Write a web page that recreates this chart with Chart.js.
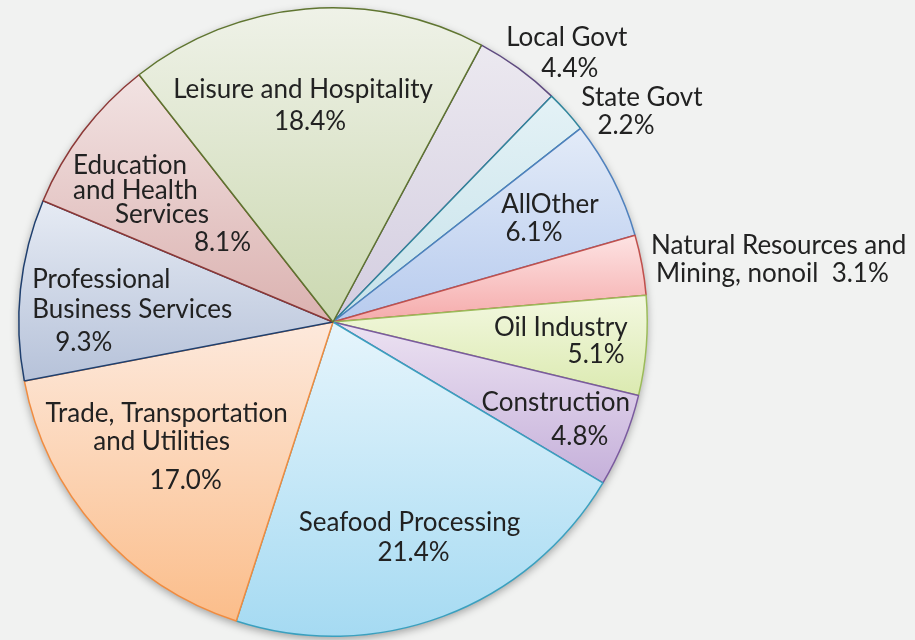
<!DOCTYPE html>
<html lang="en">
<head>
    <meta charset="UTF-8">
    <title>Employment by Sector</title>
    <script src="https://cdn.jsdelivr.net/npm/chart.js"></script>
    <style>
        body {
            margin: 0;
            background: #f1f2f1;
        }

        #wrap {
            width: 915px;
            height: 640px;
        }
    </style>
</head>
<body>
    <div id="wrap">
        <canvas id="sector-chart" width="915" height="640"></canvas>
    </div>
    <script>
        // data, clockwise from the Local Govt slice
        const sectors = [
            'Local Govt', 'State Govt', 'AllOther', 'Natural Resources and Mining, nonoil',
            'Oil Industry', 'Construction', 'Seafood Processing',
            'Trade, Transportation and Utilities', 'Professional Business Services',
            'Education and Health Services', 'Leisure and Hospitality'
        ];
        const shares = [4.4, 2.2, 6.1, 3.1, 5.1, 4.8, 21.4, 17.0, 9.3, 8.1, 18.4];
        // label text as drawn on the chart, {v} = the share
        const labelLines = [
            ['Local Govt', '{v}'],
            ['State Govt', '{v}'],
            ['AllOther', '{v}'],
            ['Natural Resources and', 'Mining, nonoil  {v}'],
            ['Oil Industry', '{v}'],
            ['Construction', '{v}'],
            ['Seafood Processing', '{v}'],
            ['Trade, Transportation', 'and Utilities', '{v}'],
            ['Professional', 'Business Services', '{v}'],
            ['Education', 'and Health', 'Services', '{v}'],
            ['Leisure and Hospitality', '{v}']
        ];

        // styling: gradient top / bottom colour and outline per slice
        const topColors = ['#ece9f0', '#e4f2f6', '#e3ebf8', '#fde3e3', '#f3f8e0', '#ece2f2',
            '#e6f5fc', '#fde9dc', '#e6ebf4', '#f2e3e3', '#eff2e8'];
        const bottomColors = ['#d3cde0', '#c6e2ea', '#b7cbee', '#f5abab', '#dbeab0', '#c5b0da',
            '#a5daf2', '#fbbd8a', '#b6c2d9', '#dbb2b0', '#cbd8b0'];
        const lineColors = ['#5f4b80', '#31859c', '#4f81bd', '#c0504d', '#9bbb59', '#7a5a9e',
            '#3aa0bf', '#f08c40', '#1f3f6e', '#8c3836', '#5f7530'];

        // label anchor: fraction of the radius along the slice middle,
        // then per line [dx, dy, align]
        const labelFrac = [1.1, 1.1, 0.7, 1.1, 0.8, 0.8, 0.7, 0.6, 0.7, 0.7, 0.7];
        const labelOffsets = [
            [[30, -5, 'center'], [33, 26, 'center']],
            [[52, 7, 'center'], [36, 35, 'center']],
            [[21, -17, 'center'], [5, 11, 'center']],
            [[-22, -14, 'left'], [-17, 14, 'left']],
            [[44, -13, 'right'], [41, 14, 'right']],
            [[-10, -14, 'center'], [14, 20, 'center']],
            [[-1, -5, 'center'], [3, 25, 'center']],
            [[-25, -33, 'center'], [-30, -5, 'center'], [-6, 34, 'center']],
            [[-82, -20, 'left'], [-82, 10, 'left'], [-59, 43, 'left']],
            [[-85, -23, 'left'], [-85, 2, 'left'], [51, 26, 'right'], [93, 54, 'right']],
            [[-11, -13, 'center'], [-4, 19, 'center']]
        ];

        const ROTATION = 28.2;

        // vertical gradient over each slice's own bounding box
        function sliceFill(context) {
            const chart = context.chart;
            const area = chart.chartArea;
            const i = context.dataIndex;
            if (!area || i === undefined) {
                return bottomColors[i] || '#ccc';
            }
            const cx = (area.left + area.right) / 2;
            const cy = (area.top + area.bottom) / 2;
            const r = Math.min(area.right - area.left, area.bottom - area.top) / 2;
            const total = shares.reduce((a, b) => a + b, 0);
            let before = 0;
            for (let k = 0; k < i; k++) before += shares[k];
            const a0 = (ROTATION - 90) * Math.PI / 180 + before / total * 2 * Math.PI;
            const a1 = a0 + shares[i] / total * 2 * Math.PI;
            let ys = [cy, cy + r * Math.sin(a0), cy + r * Math.sin(a1)];
            for (let k = -2; k <= 3; k++) {
                const up = -Math.PI / 2 + k * 2 * Math.PI;
                const down = Math.PI / 2 + k * 2 * Math.PI;
                if (up > a0 && up < a1) ys.push(cy - r);
                if (down > a0 && down < a1) ys.push(cy + r);
            }
            const g = chart.ctx.createLinearGradient(0, Math.min(...ys), 0, Math.max(...ys));
            g.addColorStop(0, topColors[i]);
            g.addColorStop(1, bottomColors[i]);
            return g;
        }

        const pieShadow = {
            id: 'pieShadow',
            beforeDatasetsDraw(chart) {
                const arc = chart.getDatasetMeta(0).data[0];
                if (!arc) return;
                const ctx = chart.ctx;
                ctx.save();
                ctx.shadowColor = 'rgba(0, 0, 0, 0.35)';
                ctx.shadowBlur = 9;
                ctx.shadowOffsetY = 3;
                ctx.fillStyle = '#f1f2f1';
                ctx.beginPath();
                ctx.arc(arc.x, arc.y, arc.outerRadius, 0, Math.PI * 2);
                ctx.fill();
                ctx.restore();
            }
        };

        const sliceLabels = {
            id: 'sliceLabels',
            afterDatasetsDraw(chart) {
                const ctx = chart.ctx;
                const meta = chart.getDatasetMeta(0);
                ctx.save();
                ctx.font = '26px Lato, "Open Sans", sans-serif';
                ctx.fillStyle = '#222';
                ctx.textBaseline = 'middle';
                meta.data.forEach((arc, i) => {
                    const p = arc.getProps(['x', 'y', 'startAngle', 'endAngle', 'outerRadius'], true);
                    const mid = (p.startAngle + p.endAngle) / 2;
                    const ax = p.x + Math.cos(mid) * p.outerRadius * labelFrac[i];
                    const ay = p.y + Math.sin(mid) * p.outerRadius * labelFrac[i];
                    labelLines[i].forEach((line, j) => {
                        const [dx, dy, align] = labelOffsets[i][j];
                        ctx.textAlign = align;
                        ctx.fillText(line.replace('{v}', shares[i].toFixed(1) + '%'), ax + dx, ay + dy);
                    });
                });
                ctx.restore();
            }
        };

        new Chart(document.getElementById('sector-chart').getContext('2d'), {
            type: 'pie',
            data: {
                labels: sectors,
                datasets: [{
                    data: shares,
                    backgroundColor: sliceFill,
                    borderColor: lineColors,
                    borderWidth: 1.5
                }]
            },
            options: {
                responsive: false,
                animation: false,
                rotation: ROTATION,
                layout: {
                    padding: { left: 18, right: 267, top: 7, bottom: 3 }
                },
                plugins: {
                    legend: { display: false },
                    tooltip: { enabled: false }
                }
            },
            plugins: [pieShadow, sliceLabels]
        });
    </script>
</body>
</html>
